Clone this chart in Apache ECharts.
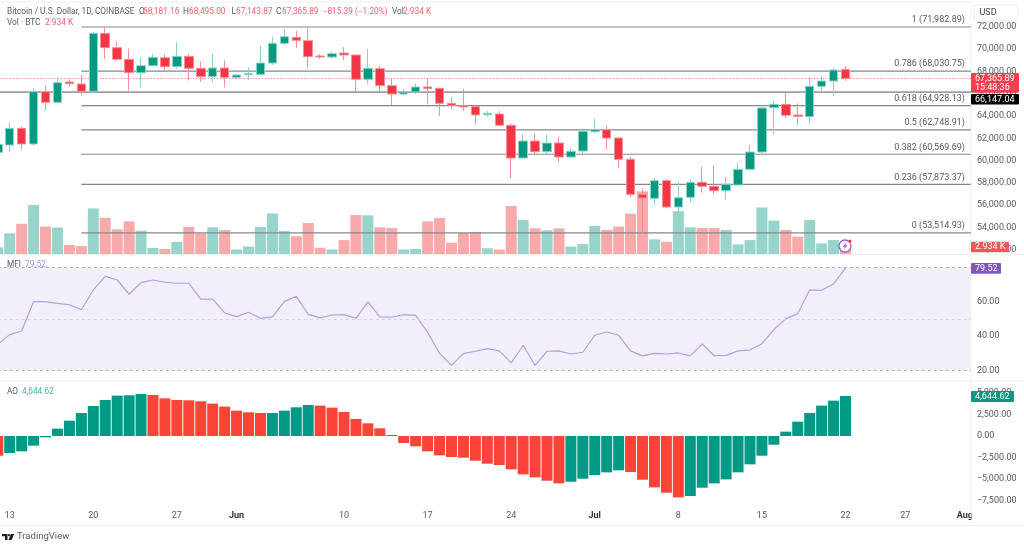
<!DOCTYPE html>
<html><head><meta charset="utf-8">
<style>html,body{margin:0;padding:0;background:#fff}#c{width:1024px;height:546px}</style>
<script src="https://cdn.jsdelivr.net/npm/echarts@6/dist/echarts.min.js"></script>
</head><body><div id="c"></div>
<script>
const dates = ["May 12","May 13","May 14","May 15","May 16","May 17","May 18","May 19","May 20","May 21","May 22","May 23","May 24","May 25","May 26","May 27","May 28","May 29","May 30","May 31",
"Jun 1","Jun 2","Jun 3","Jun 4","Jun 5","Jun 6","Jun 7","Jun 8","Jun 9","Jun 10","Jun 11","Jun 12","Jun 13","Jun 14","Jun 15","Jun 16","Jun 17","Jun 18","Jun 19","Jun 20","Jun 21","Jun 22","Jun 23","Jun 24","Jun 25","Jun 26","Jun 27","Jun 28","Jun 29","Jun 30",
"Jul 1","Jul 2","Jul 3","Jul 4","Jul 5","Jul 6","Jul 7","Jul 8","Jul 9","Jul 10","Jul 11","Jul 12","Jul 13","Jul 14","Jul 15","Jul 16","Jul 17","Jul 18","Jul 19","Jul 20","Jul 21","Jul 22","Jul 23","Jul 24","Jul 25","Jul 26","Jul 27","Jul 28","Jul 29","Jul 30","Jul 31","Aug 1"];
const tickDates = ["May 13","May 20","May 27","Jun 1","Jun 10","Jun 17","Jun 24","Jul 1","Jul 8","Jul 15","Jul 22","Jul 27","Aug 1"];
const tickLabels = ["13","20","27","Jun","10","17","24","Jul","8","15","22","27","Aug"];

const open  = [60740,61397,62892,61487,66181,65225,67049,66869,66211,71414,70128,69082,67886,68514,69231,68424,69351,68275,67527,68305,67467,67706,67736,68753,70517,71055,70756,69381,69291,69651,69471,67293,68246,66721,65973,66153,66601,66481,65136,64927,64837,64119,64179,63163,60232,61758,60800,61578,60322,60860,62594,62774,62026,60113,56973,56614,58199,55837,56703,58049,57690,57301,57809,59215,60770,64746,65045,64089,63939,66660,67138,68181.16];
const high  = [61500,63431,63072,66480,66779,67468,67288,67676,71534,71952,70667,70039,69261,69590,69500,70637,69530,68873,69560,68992,67766,68394,70278,71115,71803,71623,71952,69560,69770,70189,69500,70010,68485,67319,66422,66930,67319,66541,65674,66422,64987,64448,64448,63342,62355,62445,62325,62146,61070,62894,63760,63163,62146,60352,57512,58438,58378,58109,58318,59454,59544,58497,59843,61397,64836,65434,66092,65135,67468,67617,68334,68495];
const low   = [60700,60740,61039,61338,64537,65135,66630,65823,66092,69112,68962,66271,66570,68514,68065,68245,67198,67049,67078,66570,67348,67228,67646,68573,70368,70098,68275,69112,69142,69023,66063,66843,66153,64987,65854,65973,65046,64000,64628,64478,63282,63940,63163,58409,60172,60621,60561,59874,60262,60561,62505,61010,59305,56704,53475,56017,55717,54312,56255,57122,57002,56524,57780,59215,60650,62384,63820,63191,63281,66211,65793,67143.87];
const close = [61457,62893,61487,66181,65225,66989,66899,66211,71414,70128,69082,67886,68514,69261,68424,69351,68275,67527,68305,67467,67676,67796,68753,70517,71115,70786,69321,69291,69590,69471,67293,68280,66721,65973,66153,66601,66452,65136,64956,64807,64090,64239,63163,60232,61758,60800,61578,60322,60830,62624,62774,62026,60113,56973,56644,58199,55837,56674,58049,57690,57301,57869,59215,60770,64716,65045,64059,63969,66660,67138,68125,67365.89];
const volumeK = [2.8,8.6,12.6,20.4,11.4,11,3.75,3.3,19,15.1,10.3,13.6,9.7,2.5,2.1,5.1,11.25,8.6,11.1,10,1.9,3.1,11.25,16.9,9.6,7.4,12.9,2.6,1.9,5.8,16.25,16.1,11.1,10.8,1.9,2.1,13.6,15,4.7,8.75,9.2,2.4,1.9,20,14.2,10.7,9.9,10.7,3.1,4.2,11.7,10,11.4,16.8,26.1,6.1,5.1,17.8,11.1,10.8,10.8,10,4,5.8,19.4,13.9,10,7.2,14.2,4.4,5.8,2.934];
const mfi = [35.1,40.8,42.9,60,60,59,58.2,55.3,66.8,74.75,72.6,64.3,71.1,72.6,71.3,70.7,70.7,61.5,61.5,53.4,51.3,53.8,50.3,51.1,60,63.1,52.6,50.5,52.2,52.4,50.3,59.8,51.1,50.9,52.4,52,42.1,29.9,22.9,29.7,31.1,32.6,31.3,24.3,34.6,22.9,31.1,31.3,29.5,30.5,40.4,42.3,40.4,31.3,28.4,29.9,29.5,30.1,28.4,35.3,28.5,28.7,31.3,31.8,35.5,43.7,50.1,53,66.8,66.6,70.3,79.52];
const ao = [-2283,-1974,-1780,-1122,-155,851,1780,2670,3483,4180,4683,4721,4876,4760,4373,4180,4141,4025,3754,3406,2941,2748,2670,2670,2941,3328,3599,3522,3290,2786,1974,1471,890,116,-813,-1200,-1780,-2245,-2438,-2516,-2864,-3212,-3367,-3870,-4450,-4799,-5186,-5495,-5302,-4954,-4528,-4218,-3986,-4180,-5070,-5960,-6579,-7120,-6966,-5998,-5495,-5031,-4218,-3290,-2283,-1006,503,1664,2670,3522,4102,4644.62];
const fibLevels = ["1","0.786","0.618","0.5","0.382","0.236","0"];
const fibPrices = [71982.89,68030.75,64928.13,62748.91,60569.69,57873.37,53514.93];
const fibStart = "May 19";
const prevClose = 66147.04;
const mfiBands = [80,50,20];

const FONT = 'Roboto, "Liberation Sans", sans-serif';
const UP='#089981', DOWN='#f23645', TXT='#555962', RED_TXT='#f0616d';
const fmt = (v,d=2)=>{const s=Math.abs(v).toLocaleString('en-US',{minimumFractionDigits:d,maximumFractionDigits:d});return (v<0?'\u2212':'')+s;};

const L=-8.2, W=979.08, CUR=close.length-1, ENDX=dates.length-0.5;
const gridBase={left:L,width:W,outerBoundsMode:'none',containLabel:false};
const grids=[
 {...gridBase,top:4.51,height:245.3},
 {...gridBase,top:182,height:72},
 {...gridBase,top:267.3,height:103,show:true,backgroundColor:'#f2eefa',borderWidth:0},
 {...gridBase,top:392.9,height:107.75}
];
const xAxis=[];
grids.forEach((g,i)=>{
  const isLast=i===3;
  xAxis.push({type:'category',gridIndex:i,data:dates,boundaryGap:true,
    axisLine:{show:false},axisTick:{show:false},splitLine:{show:false},
    axisLabel:{show:isLast,margin:11,color:TXT,fontFamily:FONT,fontSize:9,hideOverlap:false,
      interval:(idx,val)=>tickDates.includes(val),
      formatter:(val)=>{const l=tickLabels[tickDates.indexOf(val)];return /[A-Za-z]/.test(l)?'{b|'+l+'}':l;},
      rich:{b:{fontWeight:'bold',color:'#333',fontFamily:FONT,fontSize:9}}}});
  xAxis.push({type:'value',gridIndex:i,min:-0.5,max:ENDX,show:false});
});
const axisY=(i,min,max,interval,show,f)=>({type:'value',gridIndex:i,position:'right',min,max,interval,scale:false,
  splitLine:{show:false},axisLine:{show:false},axisTick:{show:false},
  axisLabel:{show,margin:6,color:TXT,fontFamily:FONT,fontSize:9,formatter:f}});
const yAxis=[
  axisY(0,52000,74000,2000,true,v=>fmt(v)),
  axisY(1,0,30,10,false),
  axisY(2,20,80,20,true,v=>fmt(v)),
  axisY(3,-7500,5000,2500,true,v=>fmt(v))
];
const hline=(g,fromIdx,val,ls,labelText)=>({type:'line',xAxisIndex:2*g+1,yAxisIndex:g,z:2,animation:false,silent:true,
  symbolSize:0,showSymbol:true,lineStyle:ls,clip:false,
  data:[[fromIdx,val],{value:[ENDX,val],label:labelText?{show:true,position:'left',distance:6,offset:[0,-7],formatter:labelText,color:TXT,fontFamily:FONT,fontSize:9}:{show:false}}]});

const series=[
 {type:'bar',name:'Vol',xAxisIndex:2,yAxisIndex:1,z:1,animation:false,barWidth:11,
  data:volumeK.map((v,i)=>({value:v,itemStyle:{color:close[i]>=open[i]?'#97d4cb':'#f7aaa9'}}))},
 ...fibPrices.map((p,i)=>hline(0,dates.indexOf(fibStart),p,{color:'#85878f',width:1.2},fibLevels[i]+' ('+fmt(p)+')')),
 hline(0,-0.5,prevClose,{color:'#55575e',width:1}),
 {type:'candlestick',xAxisIndex:0,yAxisIndex:0,z:3,animation:false,barWidth:9,
  data:open.map((o,i)=>[o,close[i],low[i],high[i]]),
  itemStyle:{color:UP,color0:DOWN,borderColor:'#8ad2c4',borderColor0:'#f98d96',borderWidth:1}},
 hline(0,-0.5,close[CUR],{color:'#f6717c',width:0.8,type:[1.5,1.5]}),
 {type:'line',xAxisIndex:4,yAxisIndex:2,z:3,animation:false,symbol:'none',data:mfi,lineStyle:{color:'#b59fe2',width:1.2},
  markLine:{silent:true,symbol:'none',label:{show:false},animation:false,
    data:mfiBands.map(b=>({yAxis:b,lineStyle:{type:[3,3],width:1,color:b===50?'#d6d3dc':'#b3b1ba'}}))}},
 {type:'bar',xAxisIndex:6,yAxisIndex:3,z:3,animation:false,barWidth:11,
  data:ao.map((v,i)=>({value:v,itemStyle:{color:(i>0?v>=ao[i-1]:false)?'#009a87':'#fa4437'}}))}
];

const chart=echarts.init(document.getElementById('c'),null,{renderer:'canvas'});
chart.setOption({animation:false,backgroundColor:'#fff',grid:grids,xAxis,yAxis,series,tooltip:{show:false},legend:{show:false}});

const headerParts=[
 [7,'Bitcoin / U.S. Dollar, 1D, COINBASE',TXT],[139,'O',TXT],[143,'68,181.16',RED_TXT],[183,'H',TXT],[189,'68,495.00',RED_TXT],
 [231.5,'L',TXT],[236,'67,143.87',RED_TXT],[276,'C',TXT],[282,'67,365.89',RED_TXT],[322.7,'\u2212815.39 (\u22121.20%)',RED_TXT],
 [392,'Vol',TXT],[403,'2.934 K',RED_TXT]];
const txt=(x,y,t,fill,size)=>({type:'text',x,y,z:60,style:{text:t,fill,font:(size||8.3)+'px '+FONT,textVerticalAlign:'middle'}});
const rule=(x1,y1,x2,y2)=>({type:'line',z:0,shape:{x1,y1,x2,y2},style:{stroke:'#eef0f4',lineWidth:1}});
/* price-scale tags: vertical position comes from each pane's y axis */
const tagDefs=[
 {g:0,v:close[CUR],lines:[fmt(close[CUR]),'15:48:36'],bg:'#f4404e',w:48,up:5.5,h:19.7},
 {g:0,v:prevClose,lines:[fmt(prevClose)],bg:'#000',w:48,up:-2,h:10.5},
 {g:1,v:volumeK[CUR],lines:[fmt(volumeK[CUR],3)+' K'],bg:'#f2555c',w:38,up:5.3,h:10.5},
 {g:2,v:mfi[CUR],lines:[fmt(mfi[CUR])],bg:'#7e57c2',w:30,up:5.1,h:10.7},
 {g:3,v:ao[CUR],lines:[fmt(ao[CUR])],bg:'#089981',w:43,up:5,h:11}
];
const tagEls=[];
tagDefs.forEach(t=>{
  const py=chart.convertToPixel({yAxisIndex:t.g},t.v), top=py-t.up;
  tagEls.push({type:'rect',z:70,shape:{x:971,y:top,width:t.w,height:t.h,r:1},style:{fill:t.bg}});
  t.lines.forEach((s,k)=>tagEls.push({type:'text',z:71,x:975,y:top+5.3+k*9,style:{text:s,fill:'#fff',font:'9px '+FONT,textVerticalAlign:'middle'}}));
});
const graphic=[
  {type:'rect',z:59,shape:{x:971.5,y:0,width:52.5,height:21},style:{fill:'#fff'}},
  rule(0,2,1024,2),rule(0,254.5,1024,254.5),rule(0,381,1024,381),rule(0,525.5,1024,525.5),rule(971,2,971,525.5),
  {type:'rect',z:60,shape:{x:971.5,y:507,width:52,height:18},style:{fill:'#fff'}},
  {type:'rect',z:60,shape:{x:974,y:5,width:44,height:16,r:2},style:{fill:'#fff',stroke:'#f0f1f4'}},
  txt(979.5,13,'USD','#444',9),
  ...headerParts.map(p=>txt(p[0],12,p[1],p[2])),
  txt(7,23,'Vol \u00b7 BTC',TXT),txt(45,23,'2.934 K',RED_TXT),
  txt(7,265,'MFI',TXT),txt(25,265,'79.52','#a988e0'),
  txt(7,392,'AO',TXT),txt(22,392,'4,644.62','#3fb9a8'),
  txt(17,537,'TradingView',TXT,9.5),
  {type:'polygon',z:60,shape:{points:[[2,534],[7.5,534],[7.5,540],[5,540],[5,536.2],[2,536.2]]},style:{fill:'#1b1d24'}},
  {type:'circle',z:60,shape:{cx:9,cy:535.2,r:1.1},style:{fill:'#1b1d24'}},
  {type:'polygon',z:60,shape:{points:[[10.8,534],[14.2,534],[11.6,540],[8.5,540]]},style:{fill:'#1b1d24'}},
  {type:'circle',z:60,shape:{cx:845,cy:246,r:6},style:{fill:'#fff',lineWidth:1.3,stroke:new echarts.graphic.LinearGradient(0,0,1,1,[{offset:0,color:'#8e5fe0'},{offset:1,color:'#d14fd0'}])}},
  {type:'polygon',z:61,shape:{points:[[846.5,242],[842.8,246.8],[844.8,246.8],[843.8,250],[847.4,245.2],[845.4,245.2]]},style:{fill:'#b552d8'}},
  {type:'circle',z:61,shape:{cx:850,cy:241,r:1.5},style:{fill:'#f23645'}},
  ...tagEls
];
chart.setOption({graphic});
</script></body></html>
